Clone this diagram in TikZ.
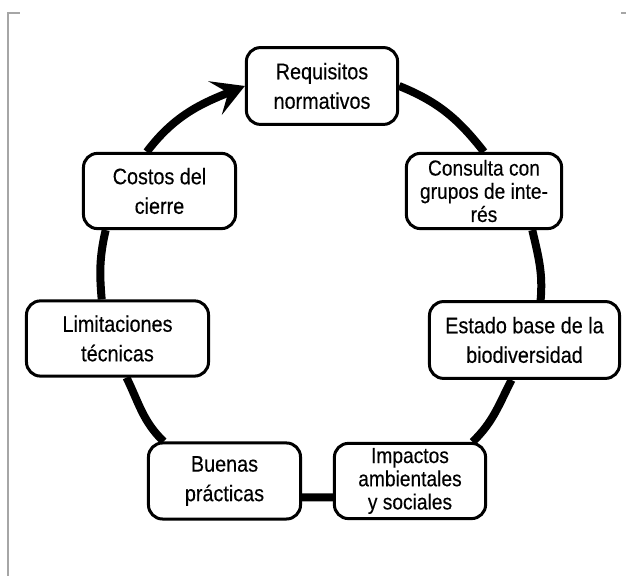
\documentclass[tikz,border=0pt]{standalone}
\usepackage{fontspec}
\setmainfont{Liberation Sans}[FakeStretch=0.88, FakeBold=0.3]
\usetikzlibrary{arrows.meta, positioning, backgrounds}
\tikzset{
  stage/.style    = {rectangle, rounded corners=0.35cm,
                     draw=black, line width=0.075cm, fill=white,
                     align=center, inner sep=2pt,
                     font=\fontsize{16}{21}\selectfont},
  dense/.style    = {font=\fontsize{15.5}{16.5}\selectfont},
  ring/.style     = {draw=black, line width=0.2cm},
  cropmark/.style = {draw=gray!70, line width=0.035cm}
}

\begin{document}
\begin{tikzpicture}[x=0.025cm, y=0.025cm]

\useasboundingbox (0,0) rectangle (626,576);

% crop marks of the scan
\draw[cropmark] (8,0) -- (8,563) -- (20,563);
\draw[cropmark] (621,563) -- (626,563);

% Ring of stages
\node[stage, minimum width=3.78cm, minimum height=1.92cm
] at (322, 490) (req) {Requisitos\\normativos};

\node[stage, dense, minimum width=3.88cm, minimum height=1.88cm
] at (484, 385) (con) {Consulta con\\grupos de inte-\\rés};

\node[stage, minimum width=4.75cm, minimum height=1.92cm
] at (524.5, 236) (est) {Estado base de la\\biodiversidad};

\node[stage, dense, minimum width=3.78cm, minimum height=1.88cm
] at (410, 95) (imp) {Impactos\\ambientales\\y sociales};

\node[stage, minimum width=3.8cm, minimum height=1.9cm
] at (224.5, 95) (bue) {Buenas\\prácticas};

\node[stage, minimum width=4.55cm, minimum height=1.88cm
] at (117.5, 237.5) (lim) {Limitaciones\\técnicas};

\node[stage, minimum width=3.8cm, minimum height=1.88cm
] at (159.5, 385) (cos) {Costos del\\cierre};

% the cycle, behind the boxes
\begin{scope}[on background layer]
\draw[ring] (req.east) to[out=-22, in=128] (con.north);
\draw[ring] (con.-39) to[out=-77, in=85] (est.68);
\draw[ring] (est.-108) to[out=-117, in=44] (imp.32);
\draw[ring] (imp.192.7) -- (bue.-12.6);
\draw[ring] (bue.147) to[out=136, in=-64] (lim.-77);
\draw[ring] (lim.112) to[out=95, in=-103] (cos.216);
\draw[ring, -{Stealth[length=0.8cm, width=0.9cm, inset=0.35cm]}]
    (cos.108) to[out=53, in=202] (req.west);
\end{scope}

\end{tikzpicture}
\end{document}
